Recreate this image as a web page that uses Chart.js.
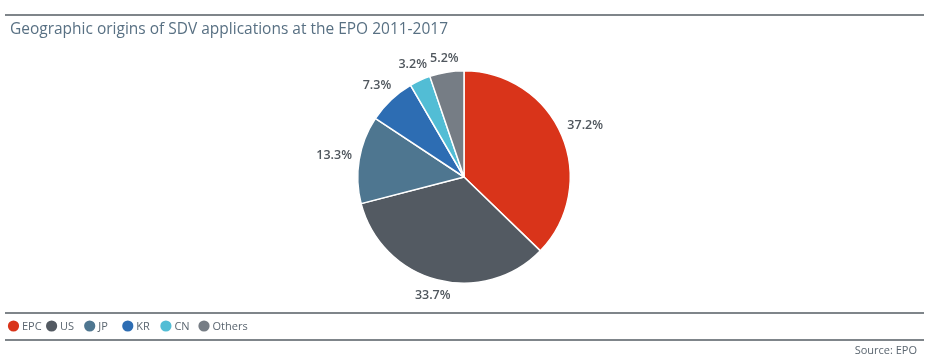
<!DOCTYPE html>
<html>
<head>
<meta charset="utf-8">
<script src="https://cdn.jsdelivr.net/npm/chart.js@4/dist/chart.umd.min.js"></script>
<style>
html,body{margin:0;padding:0;background:#fff;}
#c{display:block;}
</style>
</head>
<body>
<canvas id="c" width="932" height="358"></canvas>
<script>
const titleText = "Geographic origins of SDV applications at the EPO 2011-2017";
const sourceText = "Source: EPO";
const categories = ["EPC", "US", "JP", "KR", "CN", "Others"];
const shares = [37.2, 33.7, 13.3, 7.3, 3.2, 5.2];
const colors = ["#d9341a", "#535a62", "#4e7690", "#2d6db3", "#52bdd5", "#767d85"];

const FONT = "'Open Sans', 'Noto Sans', sans-serif";
const LINE = "#555c63";

function fitText(ctx, txt, x, y, targetW) {
  const w = ctx.measureText(txt).width;
  ctx.save();
  ctx.translate(x, y);
  ctx.scale(Math.min(1, targetW / w), 1);
  ctx.fillText(txt, 0, 0);
  ctx.restore();
}

const decor = {
  id: "decor",
  afterDraw(chart) {
    const ctx = chart.ctx;
    ctx.save();
    // rules
    ctx.strokeStyle = LINE;
    ctx.lineWidth = 1.3;
    [15, 313, 340].forEach(y => {
      ctx.beginPath(); ctx.moveTo(5, y); ctx.lineTo(924, y); ctx.stroke();
    });
    // title
    ctx.fillStyle = "#587083";
    ctx.font = "15.5px " + FONT;
    ctx.textBaseline = "middle";
    ctx.textAlign = "left";
    fitText(ctx, titleText, 10, 30, 438);

    // value labels
    const meta = chart.getDatasetMeta(0);
    ctx.font = "600 12.5px " + FONT;
    ctx.fillStyle = "#50575e";
    ctx.textAlign = "center";
    ctx.textBaseline = "middle";
    meta.data.forEach((arc, i) => {
      const p = arc.getProps(["x", "y", "startAngle", "endAngle", "outerRadius"], true);
      const mid = (p.startAngle + p.endAngle) / 2;
      const ux = Math.cos(mid), uy = Math.sin(mid);
      const txt = shares[i].toFixed(1) + "%";
      const tw = ctx.measureText(txt).width, th = 10;
      const d = p.outerRadius + 7 + Math.abs(ux) * tw / 2 + Math.abs(uy) * th / 2;
      ctx.fillText(txt, p.x + ux * d, p.y + uy * d);
    });

    // legend
    ctx.font = "11px " + FONT;
    ctx.textAlign = "left";
    ctx.textBaseline = "middle";
    categories.forEach((c, i) => {
      const cx = 13.5 + i * 38.1;
      ctx.fillStyle = colors[i];
      ctx.beginPath(); ctx.arc(cx, 326, 5.6, 0, Math.PI * 2); ctx.fill();
      ctx.fillStyle = "#5b6670";
      ctx.fillText(c, cx + 8.5, 326.5);
    });

    // source
    ctx.font = "11px " + FONT;
    ctx.fillStyle = "#5b6670";
    ctx.textAlign = "right";
    ctx.fillText(sourceText, 917, 351);
    ctx.restore();
  }
};

new Chart(document.getElementById("c"), {
  type: "pie",
  data: {
    labels: categories,
    datasets: [{
      data: shares,
      backgroundColor: colors,
      borderColor: "#ffffff",
      borderWidth: 1.5,
      hoverOffset: 0
    }]
  },
  options: {
    responsive: false,
    animation: false,
    devicePixelRatio: 1,
    layout: { padding: { top: 70, bottom: 74, left: 0, right: 4 } },
    plugins: {
      legend: { display: false },
      tooltip: { enabled: false },
      title: { display: false }
    }
  },
  plugins: [decor]
});
</script>
</body>
</html>
